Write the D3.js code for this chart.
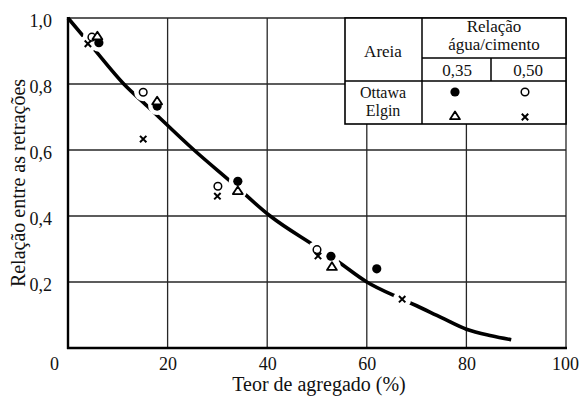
<!DOCTYPE html>
<html>
<head>
<meta charset="utf-8">
<script src="https://cdn.jsdelivr.net/npm/d3@7"></script>
<style>
  html, body { margin: 0; padding: 0; background: #fff; }
  svg { display: block; font-family: "Liberation Serif", "DejaVu Serif", serif; }
</style>
</head>
<body>
<svg id="chart" width="580" height="396"></svg>
<script>
// ---- data ----
const xTicks = [0, 20, 40, 60, 80, 100];
const yTicks = [0.2, 0.4, 0.6, 0.8, 1.0];
const xTitle = "Teor de agregado (%)";
const yTitle = "Relação entre as retrações";

// Ottawa, a/c 0.35 (filled circle)
const ottawa035 = [[6.2, 0.925], [17.9, 0.733], [34.1, 0.505], [52.8, 0.278], [62.0, 0.240]];
// Ottawa, a/c 0.50 (open circle)
const ottawa050 = [[4.8, 0.942], [15.1, 0.775], [30.1, 0.490], [50.0, 0.298]];
// Elgin, a/c 0.35 (triangle)
const elgin035 = [[5.9, 0.945], [17.9, 0.748], [34.1, 0.476], [53.0, 0.246]];
// Elgin, a/c 0.50 (cross)
const elgin050 = [[4.0, 0.922], [15.1, 0.633], [30.0, 0.460], [50.2, 0.279], [67.1, 0.148]];
// fitted curve
const curvePts = [[0, 1.0], [5, 0.91], [11.2, 0.8], [16, 0.732], [25.3, 0.6], [33, 0.5],
  [40.6, 0.4], [50, 0.305], [54.2, 0.262], [60, 0.2], [67.1, 0.148], [70, 0.128],
  [75, 0.092], [80, 0.057], [85, 0.037], [89, 0.025]];

// legend table texts
const legendHead = ["Areia", "Relação", "água/cimento"];
const legendRatios = ["0,35", "0,50"];
const legendSands = ["Ottawa", "Elgin"];

// ---- chart ----
const svg = d3.select("#chart");
const L = 68, R = 566, T = 18, B = 348;
const x = d3.scaleLinear().domain([0, 100]).range([L, R]);
const y = d3.scaleLinear().domain([0, 1]).range([B, T]);
const fmt = v => d3.format(".1f")(v).replace(".", ",");

// gridlines
const grid = svg.append("g").attr("stroke", "#262626").attr("stroke-width", 1.3);
grid.selectAll(".vx").data(xTicks.slice(1)).join("line")
  .attr("x1", d => x(d)).attr("x2", d => x(d)).attr("y1", T).attr("y2", B);
grid.selectAll(".hy").data(yTicks).join("line")
  .attr("x1", L).attr("x2", R).attr("y1", d => y(d)).attr("y2", d => y(d));

// axes (lines)
svg.append("line").attr("x1", L).attr("x2", L).attr("y1", T - 1).attr("y2", B + 1)
  .attr("stroke", "#000").attr("stroke-width", 2.4);
svg.append("line").attr("x1", L - 1).attr("x2", R + 1).attr("y1", B).attr("y2", B)
  .attr("stroke", "#000").attr("stroke-width", 2.4);

// tick labels
const xAxis = svg.append("g").attr("transform", `translate(0,${B})`)
  .call(d3.axisBottom(x).tickValues(xTicks).tickSize(0).tickPadding(9).tickFormat(d3.format("d")));
xAxis.select(".domain").remove();
xAxis.selectAll("text").attr("font-size", 18).attr("fill", "#111")
  .attr("font-family", "Liberation Serif, serif")
  .attr("dx", d => d === 0 ? -14 : (d === 100 ? -1 : 0));

const yAxis = svg.append("g").attr("transform", `translate(${L},0)`)
  .call(d3.axisLeft(y).tickValues(yTicks).tickSize(0).tickPadding(16).tickFormat(fmt));
yAxis.select(".domain").remove();
yAxis.selectAll("text").attr("font-size", 18).attr("fill", "#111")
  .attr("font-family", "Liberation Serif, serif").attr("dy", "0.45em");

// titles
svg.append("text").attr("x", 319).attr("y", 391).attr("text-anchor", "middle")
  .attr("font-size", 20).attr("fill", "#111").text(xTitle);
svg.append("text").attr("transform", "translate(25,183) rotate(-90)").attr("text-anchor", "middle")
  .attr("font-size", 20).attr("fill", "#111").text(yTitle);

// mask for curve gaps around markers
const allPts = [].concat(ottawa035, ottawa050, elgin035, elgin050);
const defs = svg.append("defs");
const mask = defs.append("mask").attr("id", "gapmask").attr("maskUnits", "userSpaceOnUse")
  .attr("x", 0).attr("y", 0).attr("width", 580).attr("height", 396);
mask.append("rect").attr("width", 580).attr("height", 396).attr("fill", "#fff");
mask.selectAll("circle").data(allPts).join("circle")
  .attr("cx", d => x(d[0])).attr("cy", d => y(d[1])).attr("r", 9).attr("fill", "#000");

// curve
const line = d3.line().x(d => x(d[0])).y(d => y(d[1])).curve(d3.curveMonotoneX);
svg.append("path").datum(curvePts).attr("d", line)
  .attr("fill", "none").attr("stroke", "#000").attr("stroke-width", 3.6)
  .attr("stroke-linecap", "butt").attr("mask", "url(#gapmask)");

// marker painters
function filledCircle(g, cx, cy, r = 4.6) {
  g.append("circle").attr("cx", cx).attr("cy", cy).attr("r", r).attr("fill", "#000");
}
function openCircle(g, cx, cy, r = 3.8) {
  g.append("circle").attr("cx", cx).attr("cy", cy).attr("r", r)
    .attr("fill", "#fff").attr("stroke", "#000").attr("stroke-width", 1.5);
}
function triangle(g, cx, cy, s = 4.5) {
  g.append("path").attr("d", `M${cx},${cy - s}L${cx + s * 1.1},${cy + s * 0.7}L${cx - s * 1.1},${cy + s * 0.7}Z`)
    .attr("fill", "#fff").attr("stroke", "#000").attr("stroke-width", 1.8).attr("stroke-linejoin", "round");
}
function cross(g, cx, cy, s = 3.2) {
  g.append("path").attr("d", `M${cx - s},${cy - s}L${cx + s},${cy + s}M${cx + s},${cy - s}L${cx - s},${cy + s}`)
    .attr("stroke", "#000").attr("stroke-width", 2).attr("fill", "none");
}

const mk = svg.append("g");
ottawa050.forEach(d => openCircle(mk, x(d[0]), y(d[1])));
elgin050.forEach(d => cross(mk, x(d[0]), y(d[1])));
ottawa035.forEach(d => filledCircle(mk, x(d[0]), y(d[1])));
elgin035.forEach(d => triangle(mk, x(d[0]), y(d[1])));

// legend table
const lg = svg.append("g");
const tL = 345, tR = R, tT = T, tB = 124, c1 = 422, c2 = 491, r1 = 58, r2 = 81;
lg.append("rect").attr("x", tL).attr("y", tT).attr("width", tR - tL).attr("height", tB - tT)
  .attr("fill", "#fff").attr("stroke", "#000").attr("stroke-width", 1.6);
const tl = lg.append("g").attr("stroke", "#000").attr("stroke-width", 1.5);
tl.append("line").attr("x1", c1).attr("x2", c1).attr("y1", tT).attr("y2", tB);
tl.append("line").attr("x1", c1).attr("x2", tR).attr("y1", r1).attr("y2", r1);
tl.append("line").attr("x1", c2).attr("x2", c2).attr("y1", r1).attr("y2", r2);
tl.append("line").attr("x1", tL).attr("x2", tR).attr("y1", r2).attr("y2", r2);

const tt = lg.append("g").attr("font-size", 17).attr("fill", "#111").attr("text-anchor", "middle");
tt.append("text").attr("x", 383).attr("y", 57).text(legendHead[0]);
tt.append("text").attr("x", 494).attr("y", 32).text(legendHead[1]);
tt.append("text").attr("x", 494).attr("y", 50).text(legendHead[2]);
tt.append("text").attr("x", 457).attr("y", 76).text(legendRatios[0]);
tt.append("text").attr("x", 528).attr("y", 76).text(legendRatios[1]);
tt.append("text").attr("x", 383).attr("y", 98).attr("font-size", 16).text(legendSands[0]);
tt.append("text").attr("x", 383).attr("y", 116).attr("font-size", 16).text(legendSands[1]);

filledCircle(lg, 455, 92);
openCircle(lg, 525, 92);
triangle(lg, 455, 116);
cross(lg, 525, 117);
</script>
</body>
</html>
